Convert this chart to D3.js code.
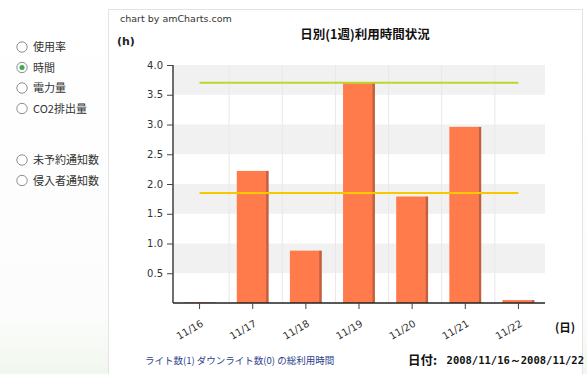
<!DOCTYPE html>
<html>
<head>
<meta charset="utf-8">
<script src="https://cdn.jsdelivr.net/npm/d3@7/dist/d3.min.js"></script>
<style>
  html, body { margin: 0; padding: 0; background: #fff; }
  svg { display: block; }
</style>
</head>
<body>
<svg id="chart" width="587" height="374"></svg>
<script>
// Daily usage hours for one week
const days = ["11/16", "11/17", "11/18", "11/19", "11/20", "11/21", "11/22"];
const hours = [0.01, 2.22, 0.88, 3.70, 1.79, 2.96, 0.05];
const maxLine = [3.70];
const avgLine = [1.85];
const yTicks = [0.5, 1.0, 1.5, 2.0, 2.5, 3.0, 3.5, 4.0];
const bands = [[0.5, 1.0], [1.5, 2.0], [2.5, 3.0], [3.5, 4.0]];
const menuTop = ["使用率", "時間", "電力量", "CO2排出量"];
const menuBottom = ["未予約通知数", "侵入者通知数"];
const selectedItem = "時間";

const svg = d3.select("#chart");
const font = "'DejaVu Sans', Verdana, sans-serif";
const cjk = "'Noto Sans CJK JP', 'DejaVu Sans', sans-serif";
const mono = "'DejaVu Sans Mono', 'Liberation Mono', monospace";

// page background with a faint green tint on the left
const defs = svg.append("defs");
const bg = defs.append("linearGradient").attr("id", "bg").attr("x1", 0).attr("y1", 0).attr("x2", 0).attr("y2", 1);
bg.append("stop").attr("offset", "0%").attr("stop-color", "#ffffff");
bg.append("stop").attr("offset", "85%").attr("stop-color", "#fbfcfb");
bg.append("stop").attr("offset", "100%").attr("stop-color", "#f1f7ee");
svg.append("rect").attr("width", 587).attr("height", 374).attr("fill", "url(#bg)");

// chart panel
svg.append("rect").attr("x", 108.5).attr("y", 9.5).attr("width", 474).attr("height", 380)
  .attr("fill", "#fff").attr("stroke", "#e3e3e3");

// radio menu
const menu = svg.append("g");
const items = menuTop.map((t, i) => ({ t, y: 47 + i * 20.5 }))
  .concat(menuBottom.map((t, i) => ({ t, y: 160 + i * 20.5 })));
items.forEach(d => {
  menu.append("circle").attr("cx", 22).attr("cy", d.y).attr("r", 5.2)
    .attr("fill", "#fff").attr("stroke", "#8a8f96").attr("stroke-width", 1);
  if (d.t === selectedItem) {
    menu.append("circle").attr("cx", 22).attr("cy", d.y).attr("r", 2.5).attr("fill", "#3cae49");
  }
  menu.append("text").attr("x", 33).attr("y", d.y + 4).text(d.t)
    .attr("font-family", cjk).attr("font-size", 11).attr("fill", "#333");
});

// plot area
const pLeft = 173, pRight = 545, pTop = 65, pBottom = 303;
const x = d3.scaleBand().domain(days).range([pLeft, pRight]).paddingInner(0.4).paddingOuter(0.2);
const xc = d => x(d) + x.bandwidth() / 2;
const y = d3.scaleLinear().domain([0, 4]).range([pBottom, pTop]);

// alternating bands
svg.append("g").selectAll("rect").data(bands).join("rect")
  .attr("x", pLeft).attr("width", pRight - pLeft)
  .attr("y", d => y(d[1])).attr("height", d => y(d[0]) - y(d[1]))
  .attr("fill", "#f1f1f1");

// vertical grid lines
const step = (pRight - pLeft) / days.length;
svg.append("g").selectAll("line").data(d3.range(1, days.length)).join("line")
  .attr("x1", i => pLeft + step * i + 3).attr("x2", i => pLeft + step * i + 3)
  .attr("y1", pTop).attr("y2", pBottom)
  .attr("stroke", "#e8e8e8").attr("stroke-width", 1);

// bars with a darker right edge
const bars = svg.append("g");
bars.selectAll("rect.shade").data(days).join("rect").attr("class", "shade")
  .attr("x", d => x(d) + x.bandwidth() - 3).attr("width", 3)
  .attr("y", (d, i) => y(hours[i])).attr("height", (d, i) => pBottom - y(hours[i]))
  .attr("fill", "#c2603f");
bars.selectAll("rect.bar").data(days).join("rect").attr("class", "bar")
  .attr("x", d => x(d)).attr("width", x.bandwidth() - 2.5)
  .attr("y", (d, i) => y(hours[i])).attr("height", (d, i) => pBottom - y(hours[i]))
  .attr("fill", "#ff7b4c");

// maximum and average lines
const x0 = xc(days[0]), x1 = xc(days[days.length - 1]);
svg.append("line").attr("x1", x0).attr("x2", x1).attr("y1", y(maxLine[0])).attr("y2", y(maxLine[0]))
  .attr("stroke", "#bcd72a").attr("stroke-width", 2);
svg.append("line").attr("x1", x0).attr("x2", x1).attr("y1", y(avgLine[0])).attr("y2", y(avgLine[0]))
  .attr("stroke", "#f7c800").attr("stroke-width", 2);

// y axis
const yAxis = svg.append("g").attr("transform", `translate(${pLeft},0)`)
  .call(d3.axisLeft(y).tickValues(yTicks).tickSize(6).tickPadding(4).tickFormat(d3.format(".1f")));
yAxis.select(".domain").attr("d", `M0,${pTop}V${pBottom}`).attr("stroke", "#222").attr("stroke-width", 1.3);
yAxis.selectAll("line").attr("stroke", "#444");
yAxis.selectAll("text").attr("font-family", font).attr("font-size", 10).attr("fill", "#333");

// x axis
const xAxis = svg.append("g").attr("transform", `translate(0,${pBottom})`)
  .call(d3.axisBottom(x).tickSize(6).tickSizeOuter(0).tickPadding(5));
xAxis.select(".domain").attr("d", `M${pLeft},0H${pRight}`).attr("stroke", "#222").attr("stroke-width", 1.3);
xAxis.selectAll("line").attr("stroke", "#444");
xAxis.selectAll("text")
  .attr("font-family", font).attr("font-size", 10).attr("fill", "#333")
  .attr("text-anchor", "end").attr("dy", 0)
  .attr("transform", "translate(-1,13) rotate(-30)");

// texts
svg.append("text").attr("x", 120).attr("y", 22).text("chart by amCharts.com")
  .attr("font-family", font).attr("font-size", 9.5).attr("fill", "#333");
svg.append("text").attr("x", 117).attr("y", 45).text("(h)")
  .attr("font-family", font).attr("font-size", 11).attr("font-weight", "bold").attr("fill", "#222");
svg.append("text").attr("x", 365).attr("y", 39).attr("text-anchor", "middle").text("日別(1週)利用時間状況")
  .attr("font-family", cjk).attr("font-size", 12.5).attr("font-weight", "bold").attr("fill", "#111");
svg.append("text").attr("x", 565).attr("y", 332).attr("text-anchor", "middle").text("(日)")
  .attr("font-family", cjk).attr("font-size", 11.5).attr("font-weight", "bold").attr("fill", "#111");
svg.append("text").attr("x", 145).attr("y", 364).text("ライト数(1) ダウンライト数(0) の総利用時間")
  .attr("font-family", cjk).attr("font-size", 9.5).attr("fill", "#2b3d8c");
svg.append("text").attr("x", 408).attr("y", 365).text("日付:")
  .attr("font-family", cjk).attr("font-size", 12.5).attr("font-weight", "bold").attr("fill", "#111");
svg.append("text").attr("x", 584).attr("y", 364).attr("text-anchor", "end").text("2008/11/16～2008/11/22")
  .attr("font-family", mono).attr("font-size", 10.5).attr("font-weight", "bold").attr("fill", "#111");
</script>
</body>
</html>
